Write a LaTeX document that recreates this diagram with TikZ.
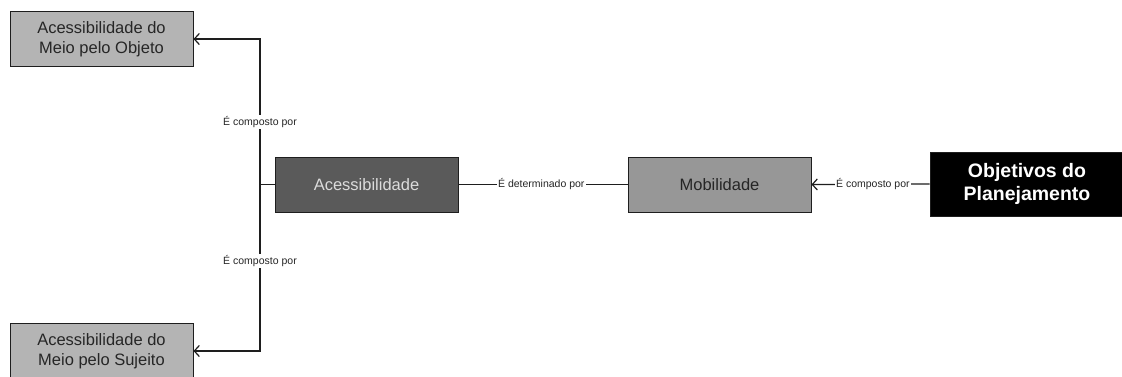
\documentclass[tikz,border=0pt]{standalone}
\usepackage{fontspec}
\setmainfont{Liberation Sans}
\usetikzlibrary{arrows.meta}
\definecolor{boxlight}{HTML}{B4B4B4}
\definecolor{boxmid}{HTML}{979797}
\definecolor{boxdark}{HTML}{5A5A5A}
\definecolor{txtlight}{HTML}{DCDCDC}
\definecolor{linecol}{HTML}{1E1E1E}
\tikzset{
  box/.style={draw=linecol, line width=1pt, minimum width=183pt, minimum height=55pt,
    inner sep=0pt, align=center, font=\fontsize{16.5}{20.5}\selectfont},
  lightbox/.style={box, fill=boxlight, text=black!85},
  midbox/.style={box, fill=boxmid, text=black!85},
  darkbox/.style={box, fill=boxdark, text=txtlight},
  goalbox/.style={box, fill=black, text=white, minimum width=194pt, minimum height=64pt,
    font=\fontsize{19.5}{23}\selectfont\bfseries},
  conn/.style={draw=linecol, line width=1.2pt},
  arr/.style={conn, -{Straight Barb[length=5pt,width=11pt,line width=1.2pt]}},
  lbl/.style={fill=white, inner sep=1pt, text=black!85, font=\fontsize{10.5}{12}\selectfont}
}
\begin{document}
\begin{tikzpicture}[x=1pt,y=-1pt]
\useasboundingbox[fill=white] (0,0) rectangle (1122,376);
\node[lightbox] (obj) at (101.5,39) {Acessibilidade do\\Meio pelo Objeto};
\node[lightbox] (suj) at (101.5,351) {Acessibilidade do\\Meio pelo Sujeito};
\node[darkbox] (acc) at (366.5,184.5) {Acessibilidade};
\node[midbox] (mob) at (719.5,184.5) {Mobilidade};
\node[goalbox] (goal) at (1027,184) {Objetivos do\\Planejamento};
\coordinate (j) at (260,184.5);
\draw[conn] (acc.west) -- (j);
\draw[arr] (j) |- node[lbl, pos=0.215] {É composto por} (obj.east);
\draw[arr] (j) |- node[lbl, pos=0.23] {É composto por} (suj.east);
\draw[conn] (acc.east) -- node[lbl, pos=0.49] {É determinado por} (mob.west);
\draw[arr] (goal.west) -- node[lbl, pos=0.48] {É composto por} (mob.east);
\end{tikzpicture}
\end{document}
